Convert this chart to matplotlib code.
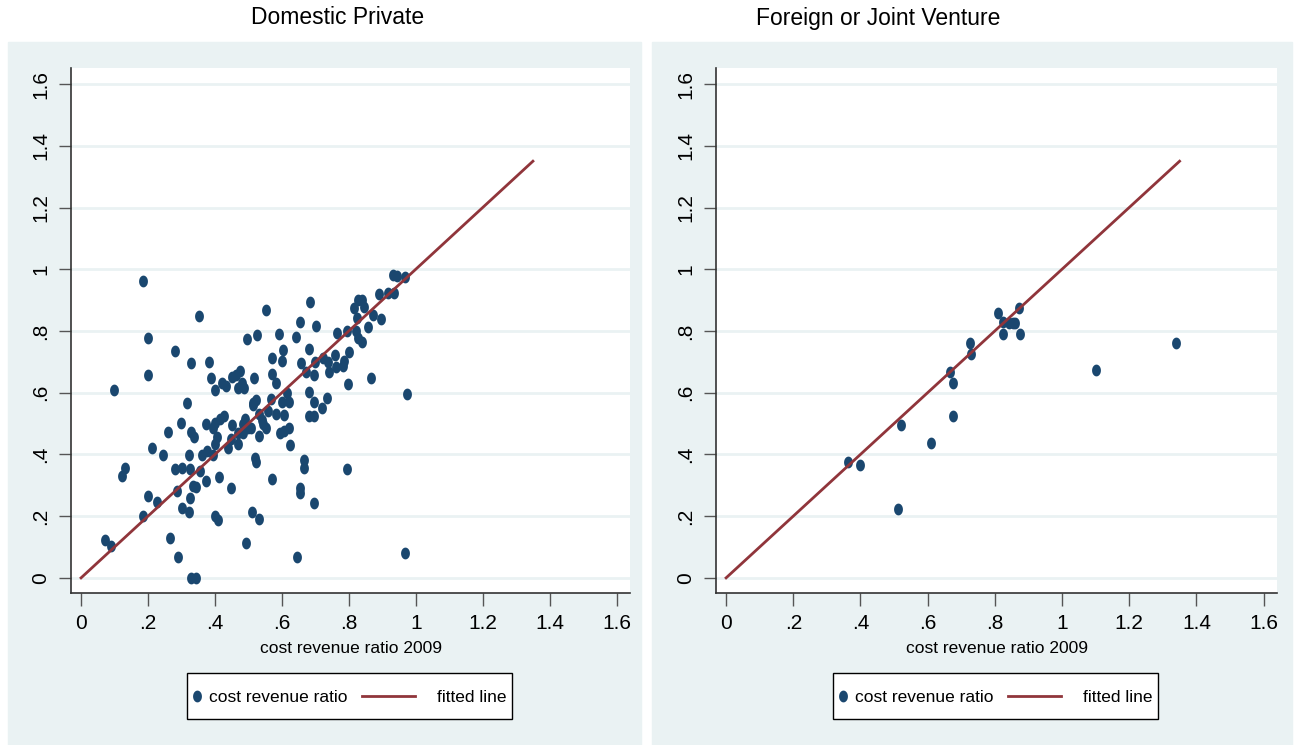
import matplotlib.pyplot as plt
import matplotlib.patches as mpatches
from matplotlib.lines import Line2D
from matplotlib.path import Path
import numpy as np

# Domestic Private: cost revenue ratio 2009 (x) vs cost revenue ratio (y)
dom_x = [0.185, 0.353, 0.200, 0.281, 0.329, 0.383, 0.200, 0.099, 0.389, 0.400,
         0.420, 0.434, 0.450, 0.463, 0.475, 0.480, 0.469, 0.488, 0.518, 0.496,
         0.527, 0.553, 0.592, 0.643, 0.655, 0.685, 0.703, 0.604, 0.601, 0.571,
         0.682, 0.658, 0.673, 0.697, 0.700, 0.724, 0.742, 0.760, 0.763, 0.784,
         0.787, 0.801, 0.765, 0.795, 0.798, 0.865, 0.815, 0.828, 0.840, 0.845,
         0.824, 0.822, 0.828, 0.840, 0.856, 0.871, 0.889, 0.896, 0.918, 0.934,
         0.932, 0.945, 0.968, 0.974, 0.968, 0.795, 0.667, 0.667, 0.655, 0.655,
         0.697, 0.646, 0.493, 0.511, 0.532, 0.571, 0.625, 0.520, 0.523, 0.449,
         0.413, 0.400, 0.410, 0.329, 0.344, 0.290, 0.266, 0.185, 0.200, 0.227,
         0.072, 0.090, 0.123, 0.132, 0.212, 0.245, 0.260, 0.281, 0.302, 0.287,
         0.302, 0.323, 0.326, 0.326, 0.323, 0.299, 0.317, 0.329, 0.338, 0.335,
         0.344, 0.356, 0.374, 0.362, 0.377, 0.395, 0.400, 0.407, 0.374, 0.395,
         0.400, 0.416, 0.428, 0.440, 0.452, 0.449, 0.469, 0.484, 0.490, 0.499,
         0.484, 0.508, 0.514, 0.523, 0.532, 0.541, 0.532, 0.553, 0.568, 0.583,
         0.601, 0.622, 0.607, 0.595, 0.607, 0.622, 0.571, 0.583, 0.682, 0.697,
         0.682, 0.697, 0.721, 0.736, 0.560, 0.470, 0.515, 0.545, 0.615, 0.738]
dom_y = [0.961, 0.847, 0.776, 0.734, 0.695, 0.701, 0.656, 0.610, 0.646, 0.610,
         0.630, 0.623, 0.652, 0.656, 0.669, 0.633, 0.614, 0.614, 0.649, 0.773,
         0.786, 0.867, 0.789, 0.782, 0.828, 0.893, 0.815, 0.737, 0.704, 0.711,
         0.743, 0.695, 0.666, 0.656, 0.698, 0.711, 0.666, 0.721, 0.682, 0.685,
         0.704, 0.731, 0.795, 0.800, 0.627, 0.649, 0.873, 0.899, 0.899, 0.877,
         0.841, 0.800, 0.776, 0.763, 0.812, 0.851, 0.919, 0.838, 0.922, 0.922,
         0.981, 0.977, 0.974, 0.597, 0.081, 0.354, 0.383, 0.357, 0.292, 0.276,
         0.243, 0.068, 0.114, 0.214, 0.191, 0.321, 0.432, 0.390, 0.377, 0.292,
         0.328, 0.200, 0.188, 0.000, 0.000, 0.068, 0.130, 0.200, 0.266, 0.246,
         0.123, 0.104, 0.331, 0.357, 0.422, 0.399, 0.474, 0.354, 0.357, 0.282,
         0.227, 0.214, 0.260, 0.354, 0.399, 0.503, 0.568, 0.474, 0.458, 0.299,
         0.295, 0.347, 0.315, 0.399, 0.412, 0.399, 0.435, 0.455, 0.500, 0.487,
         0.503, 0.516, 0.526, 0.422, 0.494, 0.451, 0.435, 0.500, 0.516, 0.487,
         0.471, 0.484, 0.565, 0.575, 0.532, 0.510, 0.461, 0.487, 0.578, 0.532,
         0.571, 0.571, 0.529, 0.471, 0.477, 0.487, 0.659, 0.633, 0.601, 0.571,
         0.526, 0.526, 0.552, 0.584, 0.540, 0.470, 0.560, 0.500, 0.600, 0.700]

# Foreign or Joint Venture
fj_x = [0.363, 0.399, 0.520, 0.512, 0.610, 0.675, 0.666, 0.675, 0.726, 0.729,
        0.809, 0.824, 0.824, 0.854, 0.860, 0.871, 0.874, 0.842, 1.100, 1.338]
fj_y = [0.377, 0.367, 0.494, 0.224, 0.438, 0.523, 0.666, 0.630, 0.760, 0.724,
        0.857, 0.828, 0.789, 0.825, 0.825, 0.873, 0.789, 0.825, 0.675, 0.760]

# fitted line endpoints
fit_x = [0, 1.35]
fit_y = [0, 1.35]

ticks = [0, 0.2, 0.4, 0.6, 0.8, 1.0, 1.2, 1.4, 1.6]
tick_labels = ['0', '.2', '.4', '.6', '.8', '1', '1.2', '1.4', '1.6']
leg_labels = ['cost revenue ratio', 'fitted line']

navy = '#1a476f'
maroon = '#90353b'
bgcol = '#eaf2f3'
plt.rcParams['font.family'] = ['Liberation Sans', 'DejaVu Sans']

# oval marker, a bit taller than wide
t = np.linspace(0, 2 * np.pi, 40)
oval = Path(np.column_stack([0.75 * np.cos(t), np.sin(t)]), closed=True)

W, H = 1299, 745
fig = plt.figure(figsize=(W / 100, H / 100), dpi=100)
fig.patch.set_facecolor('white')


def fx(px):
    return px / W


def fy(py):
    return 1 - py / H


# title, data, panel bg span, plot area span, title centre, legend left
panels = [
    ('Domestic Private', dom_x, dom_y, (8, 641), (71, 630), 338, 187),
    ('Foreign or Joint Venture', fj_x, fj_y, (652, 1292), (716, 1277), 878, 833),
]

for title, xs, ys, (bx0, bx1), (px0, px1), tx, lx in panels:
    fig.patches.append(mpatches.Rectangle((fx(bx0), 0), (bx1 - bx0) / W, fy(42),
                                          transform=fig.transFigure, color=bgcol,
                                          zorder=-10))
    ax = fig.add_axes([fx(px0), fy(593), (px1 - px0) / W, (593 - 68) / H])
    ax.set_facecolor('white')
    ax.set_xlim(-0.03, 1.64)
    ax.set_ylim(-0.049, 1.652)
    for y in ticks:
        ax.axhline(y, color=bgcol, lw=2, zorder=0)
    ax.plot(xs, ys, linestyle='none', marker=oval, markersize=8.5,
            color=navy, markeredgewidth=0, zorder=3)
    ax.plot(fit_x, fit_y, color=maroon, lw=2, zorder=4)

    ax.set_xticks(ticks)
    ax.set_xticklabels(tick_labels)
    ax.set_yticks(ticks)
    ax.set_yticklabels(tick_labels, rotation=90, va='center')
    ax.tick_params(direction='out', length=9, width=1, color='#555555',
                   labelsize=15, pad=6)
    for s in ['top', 'right']:
        ax.spines[s].set_visible(False)
    for s in ['left', 'bottom']:
        ax.spines[s].set_color('#333333')
        ax.spines[s].set_linewidth(1.2)
    ax.set_xlabel('cost revenue ratio 2009', fontsize=12.5, labelpad=6)

    fig.text(fx(tx), fy(18), title, ha='center', va='center', fontsize=16.5)

    # legend box drawn the way Stata lays it out
    fig.patches.append(mpatches.Rectangle((fx(lx), fy(719)), 325 / W, 46 / H,
                                          transform=fig.transFigure,
                                          facecolor='white', edgecolor='black',
                                          lw=1, zorder=5))
    fig.add_artist(Line2D([fx(lx + 10)], [fy(696)], linestyle='none', marker=oval,
                          markersize=8.5, color=navy, markeredgewidth=0,
                          transform=fig.transFigure, zorder=6))
    fig.text(fx(lx + 22), fy(697), leg_labels[0], ha='left', va='center',
             fontsize=12.5, zorder=6)
    fig.add_artist(Line2D([fx(lx + 175), fx(lx + 228)], [fy(696), fy(696)],
                          color=maroon, lw=2, transform=fig.transFigure, zorder=6))
    fig.text(fx(lx + 250), fy(697), leg_labels[1], ha='left', va='center',
             fontsize=12.5, zorder=6)

fig.savefig('out.png', dpi=100)
